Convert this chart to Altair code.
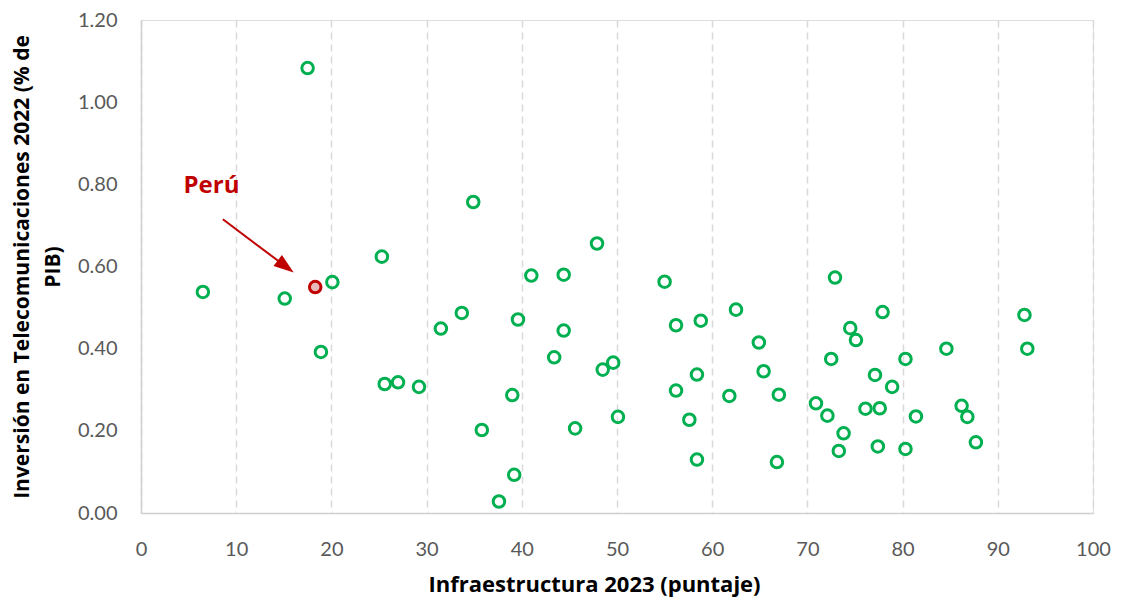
import altair as alt
import pandas as pd

# Infraestructura 2023 (puntaje)
infra = [6.5, 15.1, 17.5, 18.9, 20.1, 25.3, 25.6, 27.0, 29.2, 31.5, 33.7, 34.9,
         35.8, 37.6, 39.0, 39.2, 39.6, 41.0, 44.4, 44.4, 43.4, 45.6, 47.9, 48.5,
         49.6, 50.1, 55.0, 56.2, 56.2, 57.6, 58.4, 58.4, 58.8, 61.8, 62.5, 64.9,
         65.4, 66.8, 67.0, 70.9, 72.1, 72.5, 72.9, 73.3, 73.8, 74.5, 75.1, 76.1,
         77.1, 77.4, 77.6, 77.9, 78.9, 80.3, 80.3, 81.4, 84.6, 86.2, 86.8, 87.7,
         92.8, 93.1]
# Inversión en Telecomunicaciones 2022 (% de PIB)
inversion = [0.538, 0.522, 1.083, 0.392, 0.562, 0.624, 0.314, 0.318, 0.307, 0.449,
             0.487, 0.757, 0.202, 0.028, 0.287, 0.093, 0.471, 0.578, 0.580, 0.444,
             0.379, 0.206, 0.656, 0.349, 0.366, 0.234, 0.563, 0.457, 0.298, 0.227,
             0.337, 0.130, 0.468, 0.285, 0.495, 0.415, 0.345, 0.124, 0.288, 0.267,
             0.237, 0.375, 0.573, 0.151, 0.194, 0.450, 0.421, 0.254, 0.336, 0.162,
             0.255, 0.489, 0.307, 0.375, 0.156, 0.235, 0.400, 0.261, 0.234, 0.172,
             0.482, 0.400]

peru_infra = [18.3]
peru_inv = [0.550]

# annotation
label_text = ["Perú"]
label_x = [7.4]
label_y = [0.796]
arrow_x = [8.6]
arrow_y = [0.715]
arrow_x2 = [15.2]
arrow_y2 = [0.600]
arrow_angle = [127]

GREEN = "#00B050"
RED = "#C00000"
FONT = "Lato"
BFONT = "Open Sans"

df = pd.DataFrame({"x": infra, "y": inversion})
dperu = pd.DataFrame({"x": peru_infra, "y": peru_inv})
dlabel = pd.DataFrame({"x": label_x, "y": label_y, "t": label_text})
darrow = pd.DataFrame({"x": arrow_x, "y": arrow_y, "x2": arrow_x2, "y2": arrow_y2,
                       "a": arrow_angle})

xs = alt.Scale(domain=[0, 100], nice=False)
ys = alt.Scale(domain=[0, 1.2], nice=False)

x_axis = alt.Axis(values=list(range(0, 101, 10)), title="Infraestructura 2023 (puntaje)",
                  grid=True, gridDash=[7, 5], gridColor="#D9D9D9", gridWidth=1.5,
                  ticks=False, domainColor="#D0D0D0", domainWidth=1.5, labelFlush=False,
                  labelColor="#595959", labelFontSize=20, labelFont=FONT,
                  labelPadding=26, titleFont=BFONT, titleFontSize=22,
                  titleFontWeight="bold", titleColor="#000000", titlePadding=15,
                  titleX=453)
y_axis = alt.Axis(values=[0, 0.2, 0.4, 0.6, 0.8, 1.0, 1.2], format=".2f",
                  title=["Inversión en Telecomunicaciones 2022 (% de", "PIB)"],
                  grid=False, ticks=False, domainColor="#D0D0D0", domainWidth=1.5,
                  labelFlush=False,
                  labelColor="#595959", labelFontSize=20, labelFont=FONT,
                  labelPadding=24, titleFont=BFONT, titleFontSize=21,
                  titleFontWeight="bold", titleColor="#000000", titlePadding=14,
                  titleLineHeight=31)

pts = alt.Chart(df).mark_point(shape="circle", filled=False, size=133,
                               strokeWidth=3, color=GREEN, opacity=1).encode(
    x=alt.X("x:Q", scale=xs, axis=x_axis),
    y=alt.Y("y:Q", scale=ys, axis=y_axis),
)

peru = alt.Chart(dperu).mark_point(shape="circle", filled=True, size=133,
                                   fill="#E6B9B8", stroke=RED, strokeWidth=3,
                                   opacity=1, fillOpacity=1).encode(
    x=alt.X("x:Q", scale=xs), y=alt.Y("y:Q", scale=ys))

label = alt.Chart(dlabel).mark_text(font=BFONT, fontSize=24, fontWeight="bold",
                                    color=RED, align="center", baseline="middle").encode(
    x=alt.X("x:Q", scale=xs), y=alt.Y("y:Q", scale=ys), text="t:N")

arrow_line = alt.Chart(darrow).mark_rule(color=RED, strokeWidth=2).encode(
    x=alt.X("x:Q", scale=xs), y=alt.Y("y:Q", scale=ys), x2="x2:Q", y2="y2:Q")

arrow_head = alt.Chart(darrow).mark_point(shape="M0,-1L0.7,1L-0.7,1Z", filled=True,
                                          size=400, color=RED, opacity=1).encode(
    x=alt.X("x2:Q", scale=xs), y=alt.Y("y2:Q", scale=ys),
    angle=alt.Angle("a:Q", scale=None))

chart = alt.layer(pts, peru, arrow_line, arrow_head, label).properties(
    width=952, height=493,
    autosize=alt.AutoSizeParams(type="none"),
    padding={"left": 133, "top": 12, "right": 20, "bottom": 84},
).configure_view(stroke=None).configure(background="white")

chart.save("out.html", embed_options={"renderer": "svg", "actions": False})
